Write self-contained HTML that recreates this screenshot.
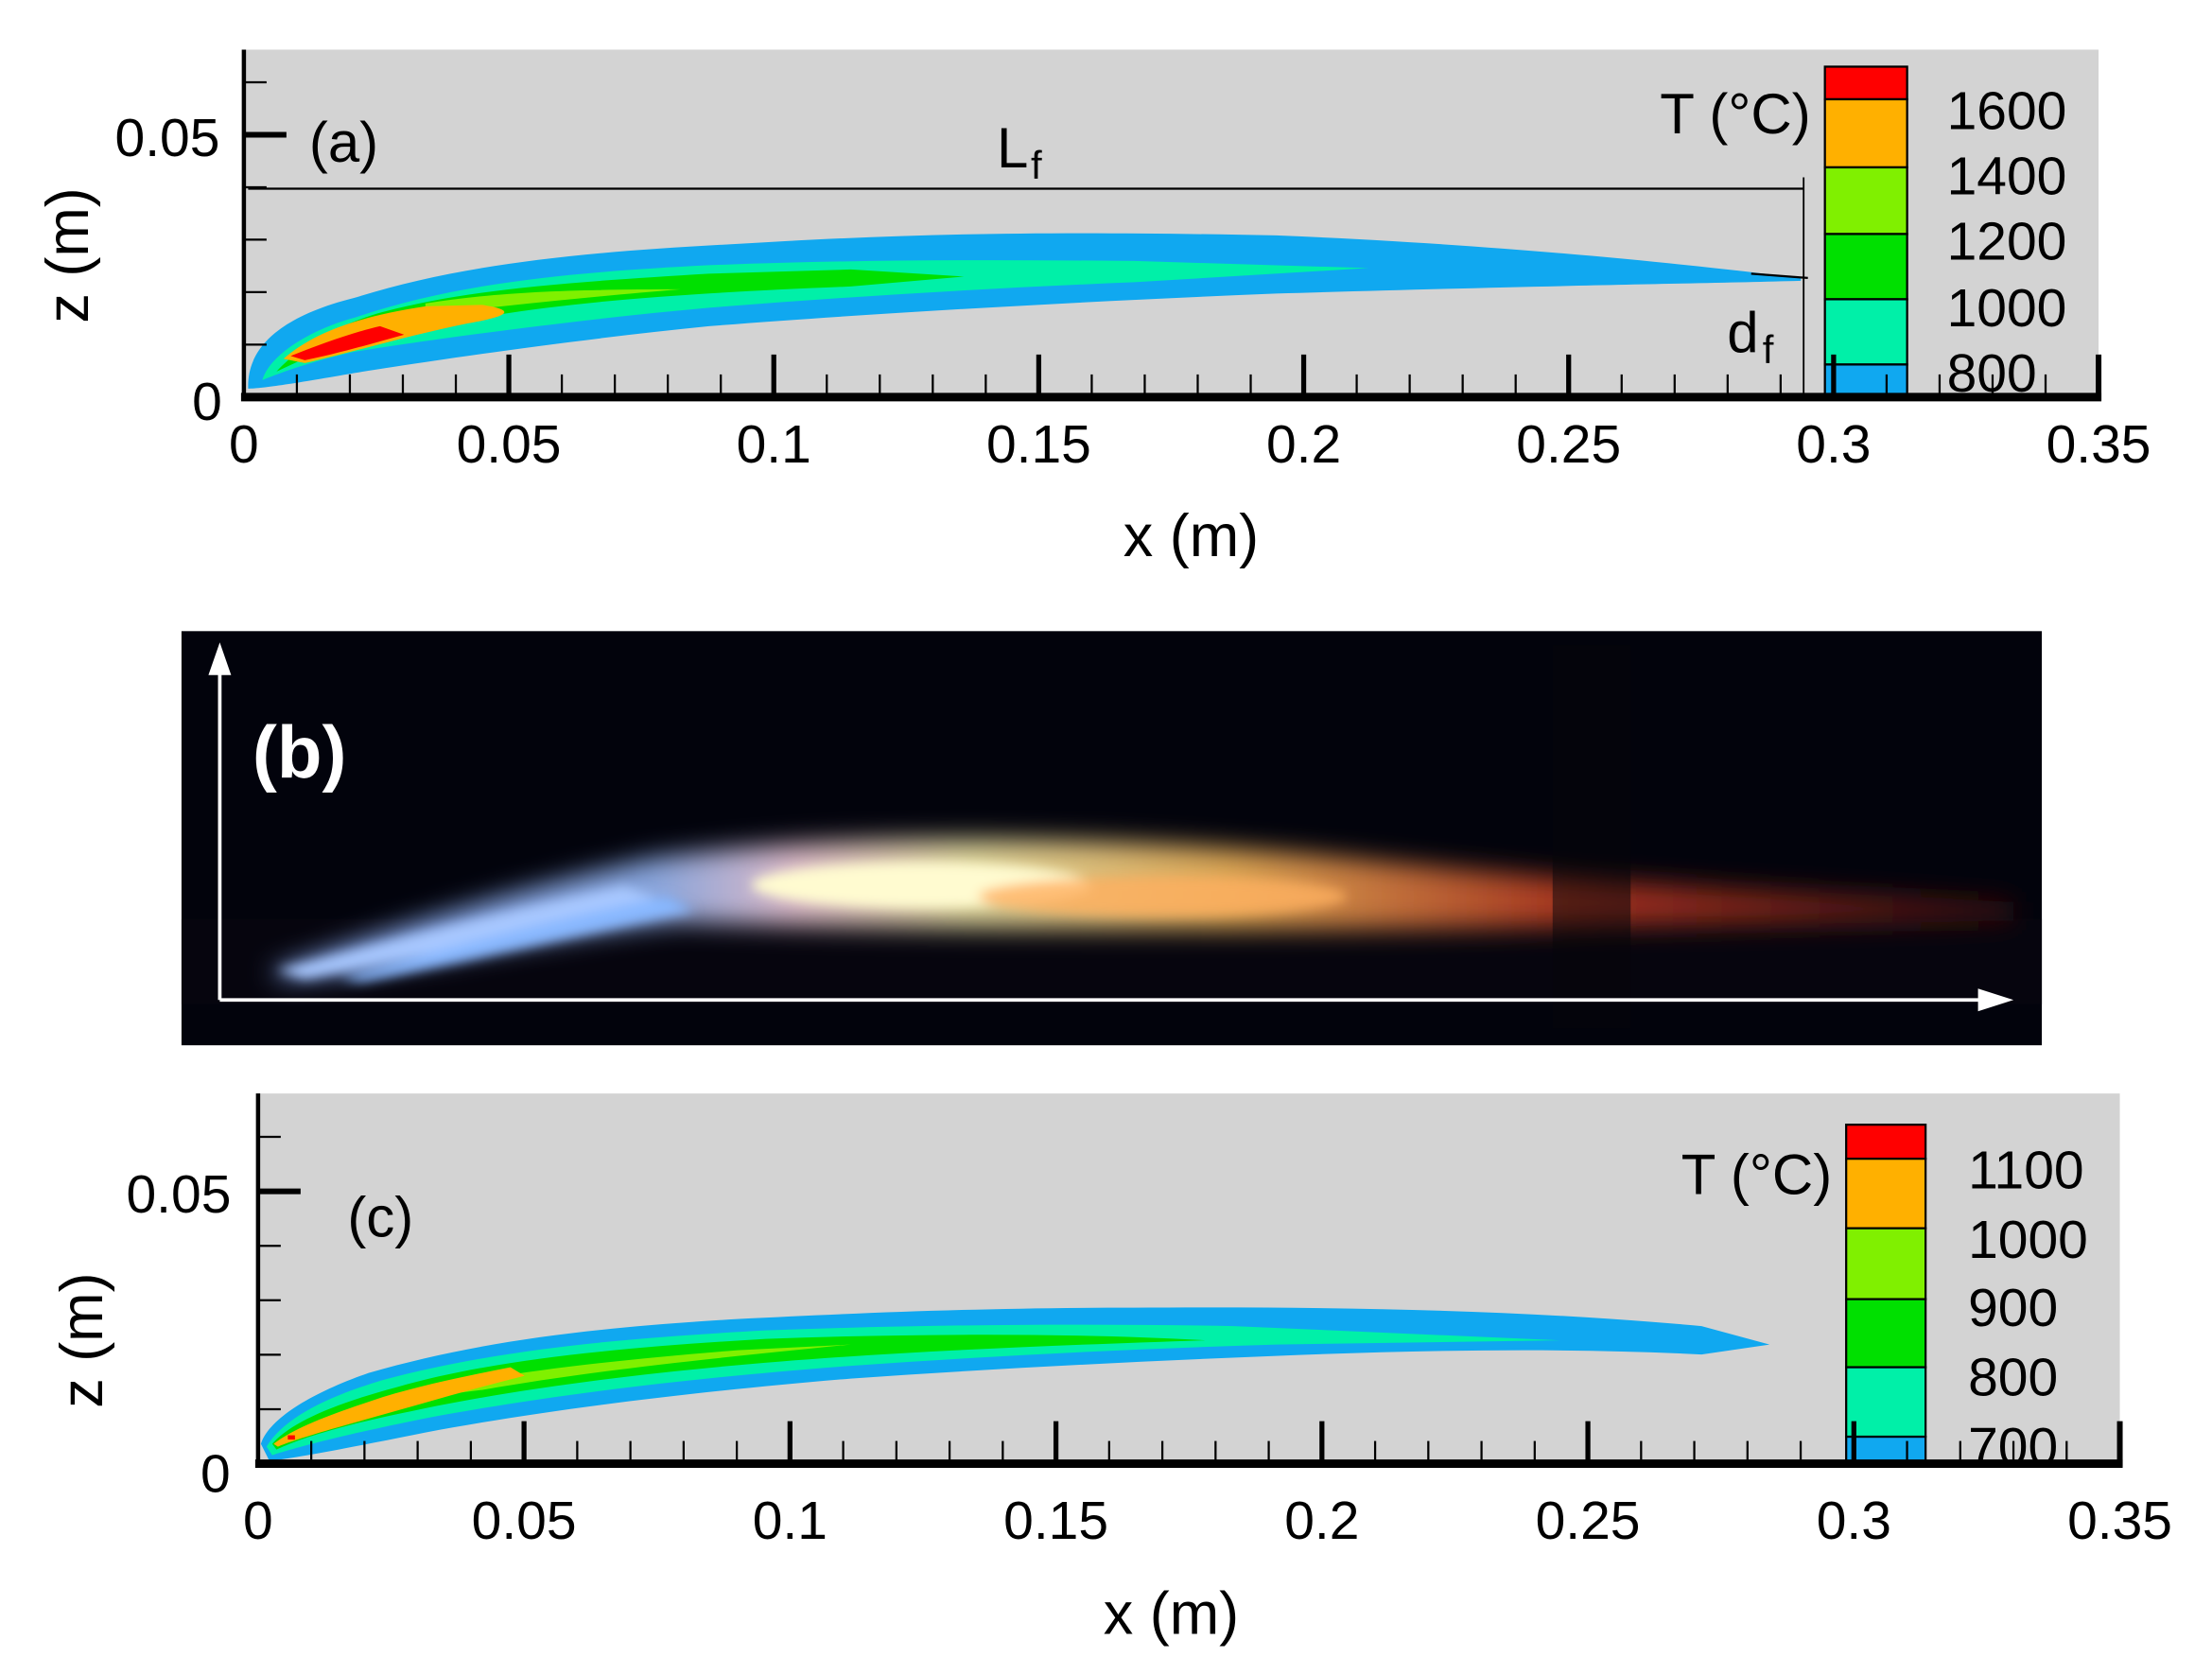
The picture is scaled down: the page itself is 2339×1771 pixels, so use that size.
<!DOCTYPE html>
<html><head><meta charset="utf-8"><style>
html,body{margin:0;padding:0;background:#fff;}
svg{display:block;}
text{font-family:"Liberation Sans Narrow","Liberation Sans",sans-serif;fill:#000;}
</style></head><body>
<svg id="s" width="2339" height="1771" viewBox="0 0 1560 1181" preserveAspectRatio="none" xmlns="http://www.w3.org/2000/svg">
<defs>
<filter id="bl" x="-20%" y="-50%" width="140%" height="200%"><feGaussianBlur stdDeviation="9"/></filter>
<filter id="bl2" x="-20%" y="-50%" width="140%" height="200%"><feGaussianBlur stdDeviation="4"/></filter>
<linearGradient id="fg" x1="0" x2="1" y1="0" y2="0">
<stop offset="0" stop-color="#8fb4ff"/><stop offset="0.22" stop-color="#9ec0ff"/><stop offset="0.3" stop-color="#ffd8e8"/><stop offset="0.4" stop-color="#fff4b0"/><stop offset="0.55" stop-color="#ffc060"/><stop offset="0.75" stop-color="#c03a20"/><stop offset="1" stop-color="#3a1010"/>
</linearGradient>
</defs>
<!-- Panel a -->
<rect x="172" y="35" width="1308" height="245" fill="#d3d3d3"/>
<path d="M175,272 C175,250 190,225 250,210 C320,188 400,178 520,172 C650,164 750,163 900,166 C1050,172 1180,185 1270,196 L1270,198 C1200,200 1100,201 900,207 C750,213 600,222 500,230 C400,240 300,255 250,263 C210,270 185,274 175,274 Z" fill="#10a8f0"/>
<path d="M185,268 C190,250 220,232 250,224 C320,200 400,192 500,187 C600,183 700,183 800,184 L965,189 L800,199 C700,203 600,209 500,217 C400,226 300,240 250,248 C215,256 195,264 185,268 Z" fill="#00f0a8"/>
<path d="M195,262 C210,245 240,228 270,220 C330,204 400,199 500,193 L600,190 L680,195 L600,202 C500,206 420,211 350,222 C300,230 250,240 210,255 Z" fill="#00e000"/>
<path d="M300,214 C350,206 400,204 480,204 C420,209 370,214 300,222 Z" fill="#80f000"/>
<path d="M200,253 C215,240 240,225 300,216 L340,215 C360,218 365,222 330,228 C290,236 250,248 215,256 Z" fill="#ffb000"/>
<path d="M205,251 C225,243 250,234 268,230 L285,236 C260,243 235,250 215,254 Z" fill="#ff0000"/>
<!-- Lf / df -->
<line x1="175" y1="133" x2="1272" y2="133" stroke="#000" stroke-width="1.5"/>
<line x1="1272" y1="125" x2="1272" y2="280" stroke="#000" stroke-width="1.2"/>
<line x1="1235" y1="193" x2="1275" y2="196" stroke="#000" stroke-width="1.5"/>
<text x="703" y="118" font-size="40">L</text><text x="727" y="126" font-size="28">f</text>
<text x="1218" y="248" font-size="40">d</text><text x="1243" y="256" font-size="28">f</text>
<text x="218" y="114" font-size="40">(a)</text>
<!-- colorbar a -->
<g stroke="#000" stroke-width="1.5">
<rect x="1287" y="47" width="58" height="23" fill="#ff0000"/>
<rect x="1287" y="70" width="58" height="48" fill="#ffb000"/>
<rect x="1287" y="118" width="58" height="47" fill="#80f000"/>
<rect x="1287" y="165" width="58" height="46" fill="#00e000"/>
<rect x="1287" y="211" width="58" height="46" fill="#00f0a8"/>
<rect x="1287" y="257" width="58" height="23" fill="#10a8f0"/>
</g>
<g font-size="38"><text x="1373" y="91">1600</text><text x="1373" y="137">1400</text><text x="1373" y="183">1200</text><text x="1373" y="230">1000</text><text x="1373" y="276">800</text></g>
<text x="1277" y="94" font-size="40" text-anchor="end">T (°C)</text>
<g id="axa"></g>
<line x1="172" y1="35" x2="172" y2="282" stroke="#000" stroke-width="3"/>
<line x1="170" y1="280" x2="1482" y2="280" stroke="#000" stroke-width="6"/>
<line x1="1480" y1="250" x2="1480" y2="282" stroke="#000" stroke-width="4"/>
<g font-size="38" text-anchor="middle" id="xla"></g>
<text x="155" y="110" font-size="38" text-anchor="end">0.05</text>
<text x="146" y="296" font-size="38" text-anchor="middle">0</text>
<text x="840" y="392" font-size="42" text-anchor="middle">x (m)</text>
<text transform="translate(62,180) rotate(-90)" font-size="42" text-anchor="middle">z (m)</text>

<!-- Panel b -->
<rect x="128" y="445" width="1312" height="292" fill="#02030c"/>
<rect x="128" y="648" width="1312" height="60" fill="#0a0610" opacity="0.6"/>
<g filter="url(#bl)">
<path d="M190,685 C260,660 350,630 460,605 C600,585 800,590 950,605 C1050,615 1150,625 1420,635 L1420,650 C1150,652 1050,655 950,655 C800,655 620,655 480,650 C380,660 280,685 200,690 Z" fill="url(#fg)" opacity="0.85"/>
</g>
<g filter="url(#bl2)">
<path d="M195,684 C260,668 340,646 440,625 L470,635 C380,655 290,675 215,690 Z" fill="#a8c8ff"/>
<path d="M240,690 C300,672 380,650 470,632 L490,642 C400,660 320,680 255,692 Z" fill="#88b8ff"/>
<ellipse cx="650" cy="624" rx="120" ry="16" fill="#fffbd0"/>
<ellipse cx="820" cy="632" rx="130" ry="14" fill="#ffb060" opacity="0.8"/>
</g>
<rect x="1095" y="455" width="55" height="270" fill="#05050a" opacity="0.5"/>
<line x1="155" y1="705" x2="155" y2="470" stroke="#fff" stroke-width="2.5"/>
<polygon points="155,453 147,476 163,476" fill="#fff"/>
<line x1="155" y1="705" x2="1400" y2="705" stroke="#fff" stroke-width="2.5"/>
<polygon points="1420,705 1395,697 1395,713" fill="#fff"/>
<text x="178" y="548" font-size="52" font-weight="bold" style="fill:#fff">(b)</text>

<!-- Panel c -->
<rect x="182" y="771" width="1313" height="261" fill="#d3d3d3"/>
<path d="M184,1018 C190,1000 220,982 260,968 C340,945 420,936 520,930 C620,925 700,922 800,922 C950,921 1080,924 1200,935 L1248,948 L1200,955 C1100,950 1000,952 900,956 C800,960 700,965 600,972 C480,982 380,995 300,1010 C250,1020 210,1028 190,1030 Z" fill="#10a8f0"/>
<path d="M188,1020 C200,1000 230,985 270,973 C350,952 430,944 540,938 C650,934 760,933 870,935 L1100,945 L900,948 C800,951 700,956 600,963 C480,972 380,985 300,1000 C250,1010 210,1020 192,1026 Z" fill="#00f0a8"/>
<path d="M192,1018 C205,1003 235,990 280,978 C350,958 440,950 540,944 C650,940 760,940 850,945 C760,948 650,952 550,960 C450,968 360,980 290,995 C240,1005 210,1015 195,1022 Z" fill="#00e000"/>
<path d="M260,990 C330,970 420,960 520,952 L600,948 C500,958 420,966 340,980 Z" fill="#80f000"/>
<path d="M193,1018 C210,1005 240,995 270,985 C300,976 330,970 360,964 L370,970 C330,980 290,992 250,1003 C225,1010 205,1016 196,1020 Z" fill="#ffb000"/>
<rect x="203" y="1012" width="5" height="3" fill="#ff0000"/>
<g stroke="#000" stroke-width="1.5">
<rect x="1302" y="793" width="56" height="24" fill="#ff0000"/>
<rect x="1302" y="817" width="56" height="49" fill="#ffb000"/>
<rect x="1302" y="866" width="56" height="50" fill="#80f000"/>
<rect x="1302" y="916" width="56" height="48" fill="#00e000"/>
<rect x="1302" y="964" width="56" height="49" fill="#00f0a8"/>
<rect x="1302" y="1013" width="56" height="19" fill="#10a8f0"/>
</g>
<g font-size="38"><text x="1388" y="838">1100</text><text x="1388" y="887">1000</text><text x="1388" y="935">900</text><text x="1388" y="984">800</text><text x="1388" y="1033">700</text></g>
<text x="1292" y="842" font-size="40" text-anchor="end">T (°C)</text>
<text x="245" y="872" font-size="40">(c)</text>
<g id="axc"></g>
<line x1="182" y1="771" x2="182" y2="1034" stroke="#000" stroke-width="3"/>
<line x1="180" y1="1032" x2="1497" y2="1032" stroke="#000" stroke-width="6"/>
<line x1="1495" y1="1002" x2="1495" y2="1034" stroke="#000" stroke-width="4"/>
<g font-size="38" text-anchor="middle" id="xlc"></g>
<text x="163" y="855" font-size="38" text-anchor="end">0.05</text>
<text x="152" y="1052" font-size="38" text-anchor="middle">0</text>
<text x="826" y="1152" font-size="42" text-anchor="middle">x (m)</text>
<text transform="translate(72,945) rotate(-90)" font-size="42" text-anchor="middle">z (m)</text>
</svg>
<script>
var NS="http://www.w3.org/2000/svg";
function ln(g,x1,y1,x2,y2,w){var l=document.createElementNS(NS,"line");l.setAttribute("x1",x1);l.setAttribute("y1",y1);l.setAttribute("x2",x2);l.setAttribute("y2",y2);l.setAttribute("stroke","#000");l.setAttribute("stroke-width",w);g.appendChild(l);}
function tx(g,x,y,s){var t=document.createElementNS(NS,"text");t.setAttribute("x",x);t.setAttribute("y",y);t.textContent=s;g.appendChild(t);}
var labs=["0","0.05","0.1","0.15","0.2","0.25","0.3","0.35"];
function axis(gid,lid,x0,x1,yb,zs,ntz,ly){
 var g=document.getElementById(gid),L=document.getElementById(lid),sx=(x1-x0)/35;
 for(var i=1;i<35;i++){var x=x0+sx*i;var maj=i%5==0;ln(g,x,yb,x,yb-(maj?30:16),maj?3.5:1.5);}
 for(var j=0;j<8;j++)tx(L,x0+sx*5*j,ly,labs[j]);
 for(var k=1;k<=ntz;k++){var y=yb-zs*k;var maj=k==5;ln(g,x0,y,x0+(maj?30:16),y,maj?4:1.5);}
}
axis("axa","xla",172,1480,280,37,6,326);
axis("axc","xlc",182,1495,1032,38.4,6,1085);
</script>
</body></html>
